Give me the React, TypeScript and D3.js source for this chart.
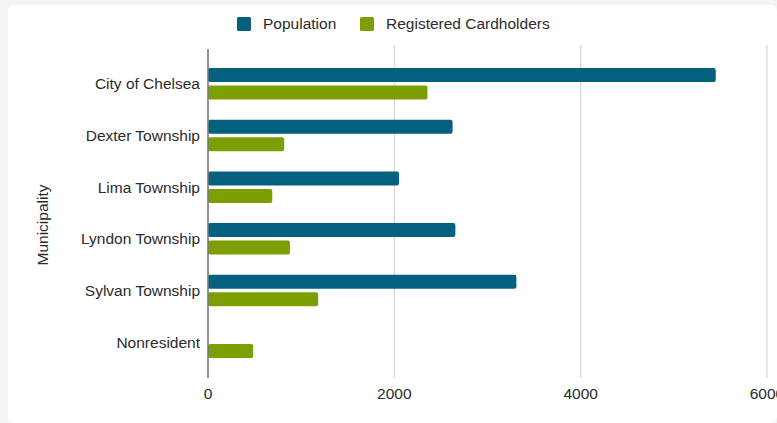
import React, { useRef, useEffect } from 'react';
import * as d3 from 'd3';

const municipalities = ['City of Chelsea', 'Dexter Township', 'Lima Township', 'Lyndon Township', 'Sylvan Township', 'Nonresident'];
const population = [5450, 2625, 2050, 2655, 3310, 0];
const cardholders = [2355, 818, 690, 880, 1182, 485];
const seriesNames = ['Population', 'Registered Cardholders'];
const seriesColors = ['#03617f', '#7d9e00'];
const xTicks = [0, 2000, 4000, 6000];

const App = () => {
  const svgRef = useRef(null);

  useEffect(() => {
    const svg = d3.select(svgRef.current);
    svg.selectAll('*').remove();

    const width = 777;
    const height = 423;
    const font = 'Liberation Sans, Arial, sans-serif';

    // card-like background
    svg.append('rect').attr('width', width).attr('height', height).attr('fill', '#f4f4f4');
    svg.append('rect').attr('x', 8).attr('y', 5).attr('width', width - 8).attr('height', height - 5)
      .attr('rx', 6).attr('fill', '#fff');

    const x = d3.scaleLinear().domain([0, 6000]).range([208, 767]);
    const y = d3.scaleBand().domain(municipalities).range([58, 368]).paddingInner(0.39).paddingOuter(0.195);
    const ySub = d3.scaleBand().domain(seriesNames).range([0, y.bandwidth()]).paddingInner(0.2);

    // gridlines
    svg.append('g')
      .selectAll('line')
      .data(xTicks.slice(1))
      .join('line')
      .attr('x1', d => x(d)).attr('x2', d => x(d))
      .attr('y1', 45).attr('y2', 378)
      .attr('stroke', '#d8d8d8').attr('stroke-width', 1.3);

    const rows = municipalities.map((m, i) => ({ m, vals: [population[i], cardholders[i]] }));

    const g = svg.append('g');
    rows.forEach(r => {
      r.vals.forEach((v, j) => {
        if (!v) return;
        g.append('rect')
          .attr('x', x(0))
          .attr('y', y(r.m) + ySub(seriesNames[j]))
          .attr('width', x(v) - x(0))
          .attr('height', ySub.bandwidth())
          .attr('rx', 2)
          .attr('fill', seriesColors[j]);
      });
    });

    // axis line
    svg.append('line')
      .attr('x1', x(0)).attr('x2', x(0))
      .attr('y1', 49).attr('y2', 378)
      .attr('stroke', '#777').attr('stroke-width', 1.6);

    // y labels
    svg.append('g')
      .selectAll('text')
      .data(municipalities)
      .join('text')
      .attr('x', 200)
      .attr('y', d => y(d) + y.bandwidth() / 2)
      .attr('dy', '0.35em')
      .attr('text-anchor', 'end')
      .attr('font-family', font)
      .attr('font-size', 15.5)
      .attr('fill', '#2b2b2b')
      .text(d => d);

    // x labels
    svg.append('g')
      .selectAll('text')
      .data(xTicks)
      .join('text')
      .attr('x', d => x(d))
      .attr('y', 394)
      .attr('dy', '0.35em')
      .attr('text-anchor', 'middle')
      .attr('font-family', font)
      .attr('font-size', 15.5)
      .attr('fill', '#2b2b2b')
      .text(d => d);

    // axis title
    svg.append('text')
      .attr('transform', 'translate(43,225) rotate(-90)')
      .attr('dy', '0.35em')
      .attr('text-anchor', 'middle')
      .attr('font-family', font)
      .attr('font-size', 15.5)
      .attr('fill', '#2b2b2b')
      .text('Municipality');

    // legend
    const legendX = [237, 360];
    seriesNames.forEach((s, i) => {
      svg.append('rect')
        .attr('x', legendX[i]).attr('y', 17)
        .attr('width', 14).attr('height', 14)
        .attr('rx', 1.5)
        .attr('fill', seriesColors[i]);
      svg.append('text')
        .attr('x', legendX[i] + 26).attr('y', 24)
        .attr('dy', '0.35em')
        .attr('font-family', font)
        .attr('font-size', 15.5)
        .attr('fill', '#2b2b2b')
        .text(s);
    });
  }, []);

  return <svg ref={svgRef} width={777} height={423} style={{ position: 'absolute', left: 0, top: 0 }}></svg>;
};

export default App;
